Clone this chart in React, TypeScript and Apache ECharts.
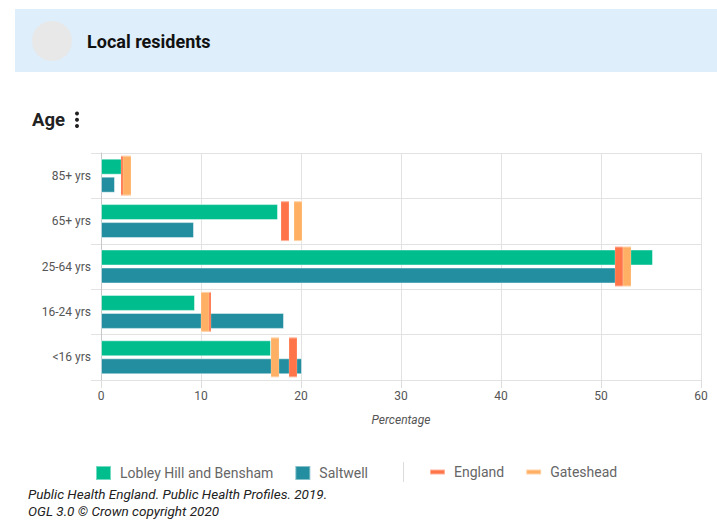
import React, { useEffect, useRef } from "react";
import * as echarts from "echarts";

const categories = ["<16 yrs", "16-24 yrs", "25-64 yrs", "65+ yrs", "85+ yrs"];
const lobley = [17.0, 9.4, 55.2, 17.7, 2.1];
const saltwell = [20.1, 18.3, 51.6, 9.3, 1.4];
const england = [19.2, 10.6, 51.8, 18.4, 2.4];
const gateshead = [17.4, 10.4, 52.6, 19.7, 2.6];
const xTicks = { min: 0, max: 60, interval: 10 };

const FONT = "Roboto, 'Noto Sans', sans-serif";

export default function App() {
  const ref = useRef<HTMLDivElement>(null);
  useEffect(() => {
    if (!ref.current) return;
    const chart = echarts.init(ref.current, undefined, { renderer: "svg" });
    const option: any = {
      animation: false,
      backgroundColor: "#ffffff",
      textStyle: { fontFamily: FONT },
      grid: { left: 101, right: 16, top: 153, bottom: 147, containLabel: false },
      xAxis: {
        type: "value",
        min: xTicks.min,
        max: xTicks.max,
        interval: xTicks.interval,
        name: "Percentage",
        nameLocation: "middle",
        nameGap: 34,
        nameTextStyle: { fontStyle: "italic", fontSize: 12, color: "#555", fontFamily: FONT },
        axisLine: { show: false },
        axisTick: { show: true, length: 8, lineStyle: { color: "#dcdcdc" } },
        axisLabel: { fontSize: 12, color: "#555", margin: 10, fontFamily: FONT },
        splitLine: { show: true, lineStyle: { color: "#e2e2e2" } },
      },
      yAxis: {
        type: "category",
        data: categories,
        axisLine: { show: true, lineStyle: { color: "#c8c8c8" } },
        axisTick: { show: true, length: 10, lineStyle: { color: "#e2e2e2" } },
        axisLabel: { fontSize: 12, color: "#555", margin: 10, fontFamily: FONT },
        splitLine: { show: true, lineStyle: { color: "#e2e2e2" } },
      },
      legend: [
        {
          data: ["Lobley Hill and Bensham", "Saltwell"],
          left: 90,
          top: 460,
          itemWidth: 15,
          itemHeight: 14,
          itemGap: 21,
          icon: "rect",
          textStyle: { fontSize: 14, color: "#666", fontFamily: FONT, padding: [0, 0, 0, 4] },
          selectedMode: false,
        },
        {
          data: ["England", "Gateshead"],
          left: 424,
          top: 460,
          itemWidth: 15,
          itemHeight: 14,
          itemGap: 21,
          icon: "path://M0,0h15v5h-15z",
          textStyle: { fontSize: 14, color: "#666", fontFamily: FONT, padding: [0, 0, 0, 4] },
          selectedMode: false,
        },
      ],
      graphic: [
        { type: "rect", left: 15, top: 9, shape: { width: 702, height: 63 }, style: { fill: "#deeefb" }, silent: true },
        { type: "circle", shape: { cx: 52, cy: 41, r: 20 }, style: { fill: "#e8e8e8" }, silent: true },
        {
          type: "text",
          x: 87,
          y: 41,
          style: { text: "Local residents", fontSize: 18, fontWeight: "bold", fill: "#111", fontFamily: FONT, textVerticalAlign: "middle" },
        },
        {
          type: "text",
          x: 32,
          y: 120,
          style: { text: "Age", fontSize: 18.5, fontWeight: "bold", fill: "#222", fontFamily: FONT, textVerticalAlign: "middle" },
        },
        { type: "circle", shape: { cx: 77, cy: 113.5, r: 2 }, style: { fill: "#222" } },
        { type: "circle", shape: { cx: 77, cy: 119.8, r: 2 }, style: { fill: "#222" } },
        { type: "circle", shape: { cx: 77, cy: 126, r: 2 }, style: { fill: "#222" } },
        { type: "line", shape: { x1: 403.5, y1: 462, x2: 403.5, y2: 482 }, style: { stroke: "#dcdcdc", lineWidth: 1 } },
        {
          type: "text",
          x: 28,
          y: 494,
          style: { text: "Public Health England. Public Health Profiles. 2019.", fontSize: 13.5, fontStyle: "italic", fill: "#222", fontFamily: FONT, textVerticalAlign: "middle" },
        },
        {
          type: "text",
          x: 28,
          y: 511,
          style: { text: "OGL 3.0 © Crown copyright 2020", fontSize: 13.5, fontStyle: "italic", fill: "#222", fontFamily: FONT, textVerticalAlign: "middle" },
        },
      ],
      series: [
        {
          name: "Lobley Hill and Bensham",
          type: "bar",
          data: lobley,
          barWidth: 16,
          barGap: "12.5%",
          itemStyle: { color: "#00bd8e", borderColor: "rgba(255,255,255,0.45)", borderWidth: 1 },
        },
        {
          name: "Saltwell",
          type: "bar",
          data: saltwell,
          barWidth: 16,
          barGap: "12.5%",
          itemStyle: { color: "#238e9f", borderColor: "rgba(255,255,255,0.45)", borderWidth: 1 },
        },
        {
          name: "England",
          type: "scatter",
          symbol: "rect",
          symbolSize: [8, 40],
          data: england.map((v, i) => [v, categories[i]]),
          itemStyle: { color: "#ff7448", opacity: 1, borderColor: "rgba(255,255,255,0.45)", borderWidth: 1 },
          z: 3,
        },
        {
          name: "Gateshead",
          type: "scatter",
          symbol: "rect",
          symbolSize: [8, 40],
          data: gateshead.map((v, i) => [v, categories[i]]),
          itemStyle: { color: "#ffb064", opacity: 1, borderColor: "rgba(255,255,255,0.45)", borderWidth: 1 },
          z: 3,
        },
      ],
    };
    chart.setOption(option);
    return () => chart.dispose();
  }, []);
  return (
    <div
      ref={ref}
      style={{ position: "fixed", left: 0, top: 0, width: 717, height: 527 }}
    />
  );
}
